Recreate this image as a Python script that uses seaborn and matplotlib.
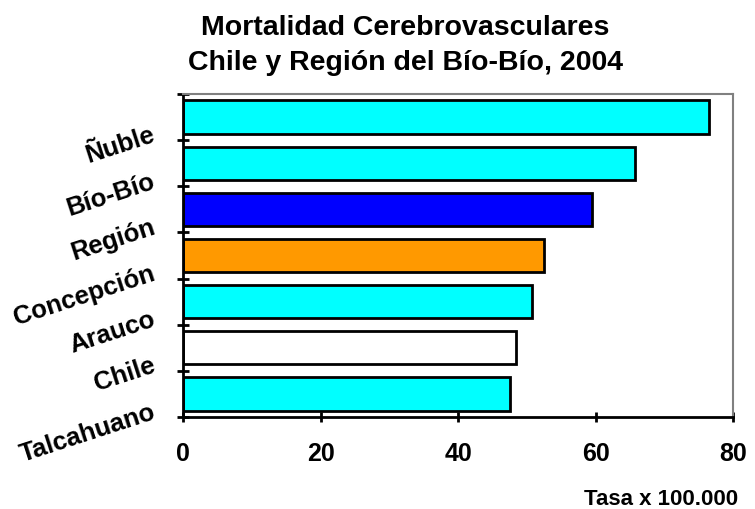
import numpy as np
import matplotlib
matplotlib.use('Agg')
import matplotlib.pyplot as plt
import seaborn as sns

# Data
categories = ['Ñuble', 'Bío-Bío', 'Región', 'Concepción', 'Arauco', 'Chile', 'Talcahuano']
tasas = [76.5, 65.7, 59.5, 52.5, 50.7, 48.5, 47.5]
bar_colors = ['#00FFFF', '#00FFFF', '#0000FF', '#FF9900', '#00FFFF', '#FFFFFF', '#00FFFF']
x_ticks = [0, 20, 40, 60, 80]

sns.set_style('white')
plt.rcParams['font.family'] = ['Liberation Sans', 'DejaVu Sans']
plt.rcParams['font.weight'] = 'bold'
plt.rcParams['text.color'] = 'black'
plt.rcParams['xtick.color'] = 'black'
plt.rcParams['ytick.color'] = 'black'
plt.rcParams['axes.labelcolor'] = 'black'

fig = plt.figure(figsize=(7.55, 5.10), dpi=100)
ax = fig.add_axes([0.2424, 0.1804, 0.7285, 0.6333])

sns.barplot(x=tasas, y=categories, hue=categories, palette=bar_colors,
            legend=False, width=0.72, saturation=1,
            edgecolor='black', linewidth=2, ax=ax)

ax.set_xlim(0, 80)
ax.set_ylim(len(categories) - 0.5, -0.5)
ax.set_xticks(x_ticks)
ax.set_xticklabels([str(t) for t in x_ticks], fontsize=18, fontweight='bold')
ax.tick_params(axis='x', direction='inout', length=7, width=2, pad=14, bottom=True)

# tick marks at category boundaries; each label sits on the boundary below its bar
ax.yaxis.remove_overlapping_locs = False
ax.set_yticks(np.arange(-0.5, len(categories)))
ax.set_yticklabels([])
ax.tick_params(axis='y', which='major', direction='inout', length=8, width=2, left=True)
ax.set_yticks(np.arange(len(categories)) + 0.5, minor=True)
ax.set_yticklabels(categories, minor=True, fontsize=18.5, fontweight='bold',
                   rotation=18, ha='right', va='baseline', rotation_mode='anchor')
ax.tick_params(axis='y', which='minor', length=0, pad=19)

ax.set_ylabel('')
ax.set_xlabel('Tasa x 100.000', fontsize=16, fontweight='bold', loc='right', labelpad=16)
ax.xaxis.label.set_position((1.01, 0))

for side in ['left', 'bottom']:
    ax.spines[side].set_color('black')
    ax.spines[side].set_linewidth(2)
for side in ['top', 'right']:
    ax.spines[side].set_color('#808080')
    ax.spines[side].set_linewidth(1.5)

fig.suptitle('Mortalidad Cerebrovasculares\nChile y Región del Bío-Bío, 2004',
             x=0.537, y=0.97, fontsize=20.5, fontweight='bold', linespacing=1.45)

fig.savefig('out.png', dpi=100)
